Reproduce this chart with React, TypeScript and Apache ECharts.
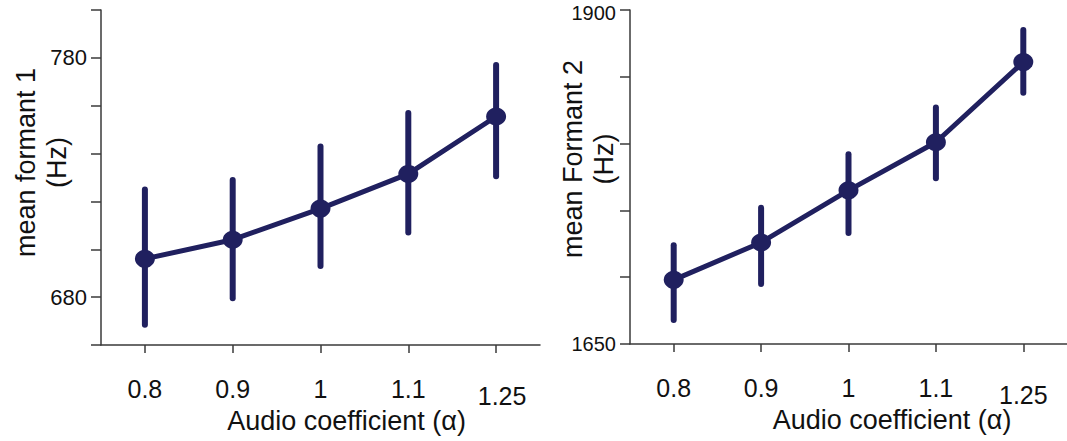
import React, { useEffect, useRef } from "react";
import * as echarts from "echarts";

const categories = ["0.8", "0.9", "1", "1.1", "1.25"];
const f1Mean = [696, 704, 717, 731.5, 755.5];
const f1Low = [668.5, 679.5, 693, 707, 730.5];
const f1High = [725, 729, 743, 757, 777];
const f2Mean = [1698, 1726, 1765, 1801, 1861];
const f2Low = [1668, 1695, 1733, 1774, 1838];
const f2High = [1724, 1752, 1792, 1827, 1885];
const f1Ticks = [680, 780];
const f2Ticks = [1650, 1900];

const NAVY = "#20205f";
const AXIS = "#3a3a3a";
const FONT = "'Liberation Sans', Arial, Helvetica, sans-serif";
const GRID_LEFT = [101, 630];

function errorSeries(low: number[], high: number[], idx: number) {
  return {
    type: "custom",
    xAxisIndex: idx,
    yAxisIndex: idx,
    data: categories.map((_, i) => [i, low[i], high[i]]),
    encode: { x: 0, y: [1, 2] },
    renderItem: (_p: any, api: any) => {
      const x = api.value(0);
      const lo = api.coord([x, api.value(1)]);
      const hi = api.coord([x, api.value(2)]);
      return {
        type: "line",
        shape: { x1: lo[0], y1: lo[1], x2: hi[0], y2: hi[1] },
        style: { stroke: NAVY, lineWidth: 6, lineCap: "round" },
      };
    },
    z: 2,
  };
}

function xAxis(idx: number, namePadLeft: number, shiftLast: number) {
  return {
    type: "category",
    gridIndex: idx,
    data: categories,
    boundaryGap: true,
    axisLine: { show: true, lineStyle: { color: AXIS, width: 1.5 } },
    axisTick: { show: true, alignWithLabel: true, length: 8, lineStyle: { color: AXIS, width: 1.5 } },
    axisLabel: {
      interval: 0,
      hideOverlap: false,
      margin: 31,
      color: "#111",
      fontFamily: FONT,
      fontSize: 25,
      formatter: (v: string) => (v === "1.25" ? `{b|${v}}` : `{a|${v}}`),
      rich: {
        a: { fontSize: 25, lineHeight: 25, fontFamily: FONT, color: "#111" },
        b: { fontSize: 25, lineHeight: 25, fontFamily: FONT, color: "#111", padding: [15, 0, 0, shiftLast] },
      },
    },
    splitLine: { show: false },
    name: "Audio coefficient (α)",
    nameLocation: "middle",
    nameGap: 62,
    nameMoveOverlap: false,
    nameTextStyle: { fontSize: 27, fontFamily: FONT, color: "#111", padding: [0, 0, 0, namePadLeft] },
  };
}

function yAxis(idx: number, name: string, min: number, max: number, interval: number, gap: number, pad: number) {
  return {
    type: "value",
    gridIndex: idx,
    min,
    max,
    interval,
    axisLine: { show: true, lineStyle: { color: AXIS, width: 1.5 } },
    axisTick: { show: true, length: 10, lineStyle: { color: AXIS, width: 1.5 } },
    axisLabel: { show: false },
    splitLine: { show: false },
    name,
    nameLocation: "middle",
    nameRotate: 90,
    nameGap: gap,
    nameMoveOverlap: false,
    nameTextStyle: { fontSize: 27, lineHeight: 31, fontFamily: FONT, color: "#111", padding: [0, 0, 0, pad], align: "center" },
  };
}

function lineSeries(values: number[], idx: number) {
  return {
    type: "line",
    xAxisIndex: idx,
    yAxisIndex: idx,
    data: values,
    symbol: "circle",
    symbolSize: [20, 18],
    itemStyle: { color: NAVY },
    lineStyle: { color: NAVY, width: 5 },
    z: 3,
  };
}

export default function App() {
  const ref = useRef<HTMLDivElement>(null);
  useEffect(() => {
    if (!ref.current) return;
    const chart = echarts.init(ref.current, undefined, { renderer: "svg" });
    chart.setOption({
      animation: false,
      backgroundColor: "#fff",
      textStyle: { fontFamily: FONT },
      grid: [
        { left: GRID_LEFT[0], top: 10, width: 439, height: 335, containLabel: false, outerBoundsMode: "none" },
        { left: GRID_LEFT[1], top: 10, width: 437, height: 334, containLabel: false, outerBoundsMode: "none" },
      ],
      xAxis: [xAxis(0, 52, 12), xAxis(1, 87, 0)],
      yAxis: [
        yAxis(0, "mean formant 1\n(Hz)", 660, 800, 20, 29, 30),
        yAxis(1, "mean Formant 2\n(Hz)", 1650, 1900, 50, 11, 36),
      ],
      series: [
        errorSeries(f1Low, f1High, 0),
        lineSeries(f1Mean, 0),
        errorSeries(f2Low, f2High, 1),
        lineSeries(f2Mean, 1),
      ],
    });

    const tickLabels: any[] = [];
    const addLabels = (ticks: number[], axisIdx: number, size: number, maxVal: number) => {
      ticks.forEach((v) => {
        const y = chart.convertToPixel({ yAxisIndex: axisIdx } as any, v) as unknown as number;
        tickLabels.push({
          type: "text",
          x: GRID_LEFT[axisIdx] - 14,
          y: y + (v === maxVal ? 3 : 0),
          style: {
            text: String(v),
            fontSize: size,
            fontFamily: FONT,
            fill: "#111",
            align: "right",
            verticalAlign: "middle",
          },
        });
      });
    };
    addLabels(f1Ticks, 0, 22, 800);
    addLabels(f2Ticks, 1, 20, 1900);
    chart.setOption({ graphic: tickLabels });

    return () => chart.dispose();
  }, []);
  return <div ref={ref} style={{ position: "absolute", left: 0, top: 0, width: 1067, height: 441 }} />;
}
